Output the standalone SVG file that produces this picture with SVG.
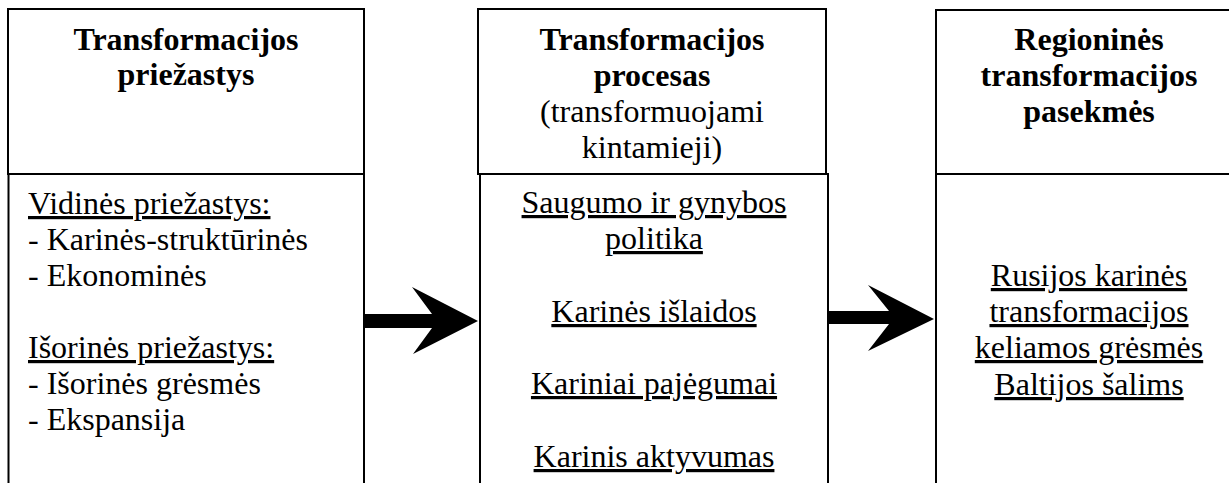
<svg xmlns="http://www.w3.org/2000/svg" width="1229" height="483" viewBox="0 0 1229 483">
<style>
.box{fill:#fff;stroke:#000;stroke-width:2}
.h{font-weight:bold;text-anchor:middle}
.hr{text-anchor:middle}
.c{text-anchor:middle}
.u{text-decoration:underline}
.arrow{fill:#000}
</style>
<rect width="1229" height="483" fill="#fff"/>
<g font-family="Liberation Serif, DejaVu Serif, serif" font-size="32" fill="#000">
<g id="node-causes">
<rect class="box" x="8" y="9" width="356" height="165"/>
<rect class="box" x="8.5" y="174" width="355.5" height="320"/>
<text class="h" x="186" y="50">Transformacijos</text>
<text class="h" x="186" y="85">priežastys</text>
<text class="u" x="28" y="214">Vidinės priežastys:</text>
<text x="28" y="250">- Karinės-struktūrinės</text>
<text x="28" y="286">- Ekonominės</text>
<text class="u" x="28" y="358">Išorinės priežastys:</text>
<text x="28" y="394">- Išorinės grėsmės</text>
<text x="28" y="430">- Ekspansija</text>
</g>
<g id="node-process">
<rect class="box" x="478" y="9" width="348" height="165"/>
<rect class="box" x="480" y="174" width="348" height="320"/>
<text class="h" x="652" y="50">Transformacijos</text>
<text class="h" x="652" y="86">procesas</text>
<text class="hr" x="652" y="122">(transformuojami</text>
<text class="hr" x="652" y="158">kintamieji)</text>
<text class="c u" x="654" y="213">Saugumo ir gynybos</text>
<text class="c u" x="654" y="249">politika</text>
<text class="c u" x="654" y="322">Karinės išlaidos</text>
<text class="c u" x="654" y="394">Kariniai pajėgumai</text>
<text class="c u" x="654" y="467">Karinis aktyvumas</text>
</g>
<g id="node-consequences">
<rect class="box" x="936" y="10" width="310" height="164"/>
<rect class="box" x="936" y="174" width="310" height="320"/>
<text class="h" x="1089" y="50">Regioninės</text>
<text class="h" x="1089" y="86">transformacijos</text>
<text class="h" x="1089" y="122">pasekmės</text>
<text class="c u" x="1089" y="286">Rusijos karinės</text>
<text class="c u" x="1089" y="322">transformacijos</text>
<text class="c u" x="1089" y="358">keliamos grėsmės</text>
<text class="c u" x="1089" y="395">Baltijos šalims</text>
</g>
</g>
<g id="connectors">
<polygon class="arrow" points="364,314 432,314 412,287 478,321 413,354 432,328 364,328"/>
<polygon class="arrow" points="827,311 889,311 868,285 934,319 868,351 889,324 827,324"/>
</g>
</svg>
